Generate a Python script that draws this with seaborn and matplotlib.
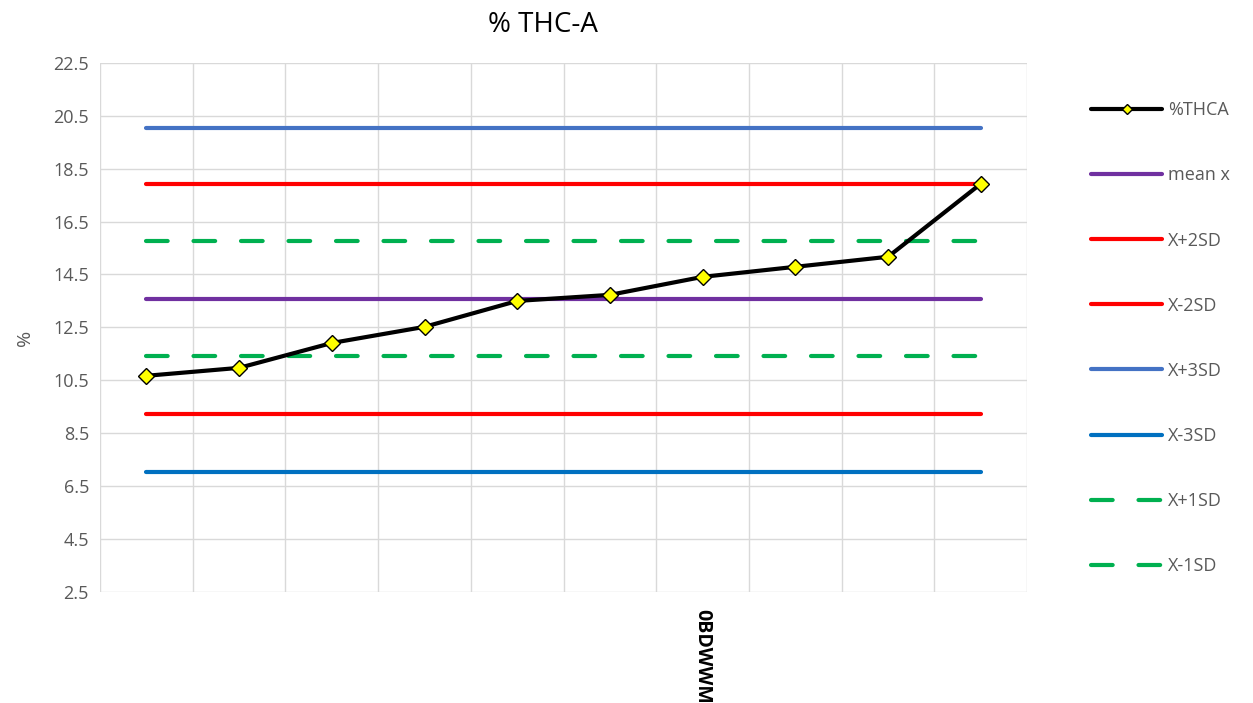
import matplotlib
matplotlib.use("Agg")
import matplotlib.pyplot as plt
import seaborn as sns
import pandas as pd
import numpy as np

# Data
samples = ["", "", "", "", "", "", "0BDWWM", "", "", ""]
thca = [10.67, 10.97, 11.91, 12.52, 13.50, 13.73, 14.41, 14.79, 15.17, 17.93]

mean_x = 13.57
plus_1sd = 15.77
minus_1sd = 11.42
plus_2sd = 17.93
minus_2sd = 9.23
plus_3sd = 20.04
minus_3sd = 7.05

y_ticks = [2.5, 4.5, 6.5, 8.5, 10.5, 12.5, 14.5, 16.5, 18.5, 20.5, 22.5]

sns.set_style("white")
plt.rcParams['font.family'] = ['Open Sans', 'DejaVu Sans']

fig = plt.figure(figsize=(12.53, 7.03), dpi=100)
ax = fig.add_axes([0.0798, 0.158, 0.74, 0.7526])

pos = np.arange(len(samples))
df = pd.DataFrame({"pos": pos, "thca": thca})

# control lines (flat across all samples)
controls = [
    ("mean x", mean_x, "#7030A0", "-"),
    ("X+2SD", plus_2sd, "#FF0000", "-"),
    ("X-2SD", minus_2sd, "#FF0000", "-"),
    ("X+3SD", plus_3sd, "#4472C4", "-"),
    ("X-3SD", minus_3sd, "#0070C0", "-"),
    ("X+1SD", plus_1sd, "#00B050", "--"),
    ("X-1SD", minus_1sd, "#00B050", "--"),
]

handles = []
for name, level, color, ls in controls:
    sns.lineplot(x=pos, y=[level] * len(pos), ax=ax, color=color, linewidth=3,
                 label=name, legend=False)
    ln = ax.lines[-1]
    ln.set_solid_capstyle("round")
    if ls == "--":
        ln.set_dashes((5.2, 6.2))
        ln.set_dash_capstyle("round")
    handles.append(ln)

sns.lineplot(data=df, x="pos", y="thca", ax=ax, color="black", linewidth=3,
             marker="D", markersize=8, markerfacecolor="#FFFF00",
             markeredgecolor="black", markeredgewidth=1, label="%THCA",
             legend=False, zorder=5)
main = ax.lines[-1]
handles.insert(0, main)

ax.set_xlim(-0.5, len(samples) - 0.5)
ax.set_ylim(2.5, 22.5)
ax.set_yticks(y_ticks)
ax.set_yticklabels([str(t) for t in y_ticks])
ax.set_xticks(pos)
ax.set_xticklabels(samples, rotation=270, fontsize=14, fontweight="bold",
                   color="black")
ax.set_xticks(np.arange(-0.5, len(samples), 1), minor=True)
ax.grid(True, which="major", axis="y", color="#D9D9D9", linewidth=1)
ax.grid(True, which="minor", axis="x", color="#D9D9D9", linewidth=1)
ax.tick_params(axis="both", which="both", length=0)
ax.tick_params(axis="y", labelsize=13, labelcolor="#595959", pad=8)
ax.tick_params(axis="x", pad=12)
for s in ax.spines.values():
    s.set_visible(False)
ax.set_xlabel("")
ax.set_ylabel("%", fontsize=14, color="#595959")
ax.yaxis.set_label_coords(-0.071, 0.48)
ax.set_axisbelow(True)

fig.text(0.433, 0.965, "% THC-A", ha="center", va="center", fontsize=20,
         color="black")

labels = [h.get_label() for h in handles]
leg = fig.legend(handles, labels, loc="upper left", bbox_to_anchor=(0.858, 0.879),
                 frameon=False, fontsize=13, labelspacing=2.61, handlelength=3.9,
                 handletextpad=0.35, labelcolor="#595959", markerscale=0.7)

fig.savefig("out.png", dpi=100)
